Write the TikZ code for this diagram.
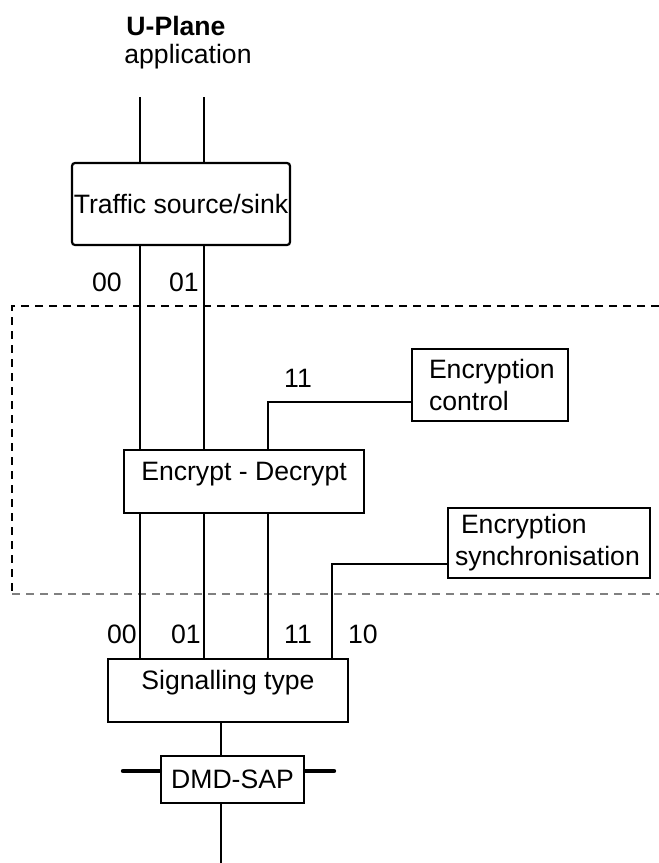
\documentclass[tikz,border=0pt]{standalone}
\usepackage{fontspec}
\setmainfont{Liberation Sans}
\usepackage{tikz}
\usetikzlibrary{positioning,calc}
\definecolor{dgray}{HTML}{808080}

\begin{document}
\begin{tikzpicture}[x=0.5pt, y=-0.5pt,
    txt/.style={font=\fontsize{13.3}{16}\selectfont, inner sep=0pt},
    blockbox/.style={txt, draw, line width=1.1pt, align=center},
    upbox/.style={blockbox, text height=9.6pt, text depth=11pt},
    wire/.style={line width=1.1pt},
    sapbar/.style={line width=2.2pt, line cap=round},
    dashtop/.style={line width=0.6pt, dash pattern=on 4pt off 3pt},
    dashbot/.style={line width=1pt, dgray, dash pattern=on 4pt off 3pt}]
    \useasboundingbox (0,0) rectangle (659,863);

    % Title
    \node[txt, anchor=base, font=\fontsize{13.3}{16}\selectfont\bfseries] (uplane) at (176,35) {U-Plane};
    \node[txt, anchor=base] (app) at (188,63) {application};

    % Blocks
    \node[blockbox, minimum width=109pt, minimum height=41pt, rounded corners=1.5pt] (traffic) at (181,204) {Traffic source/sink};
    \node[upbox, minimum width=120pt, minimum height=31.5pt] (encrypt) at (244,481.5) {Encrypt - Decrypt};
    \node[upbox, minimum width=120pt, minimum height=31.5pt] (sig) at (228,690.5) {Signalling type};
    \node[blockbox, minimum width=71.5pt, minimum height=23.5pt] (dmd) at (232.5,779.5) {DMD-SAP};
    \node[blockbox, align=left, text width=61pt, inner xsep=8.5pt, minimum height=36pt] (ctrl) at (490,385) {Encryption\\control};
    \node[blockbox, align=left, text width=94pt, inner xsep=3.5pt, minimum height=35pt] (sync) at (549,543) {\hspace*{3pt}Encryption\\synchronisation};

    % Connection points
    \coordinate (in00) at (140,97);
    \coordinate (in01) at (204,97);
    \coordinate (c11) at (268,402);
    \coordinate (c10) at (332,564);
    \coordinate (sap) at (221,0);
    \coordinate (out) at (221,863);
    \coordinate (barl) at (123,771);
    \coordinate (barr) at (334,771);

    % Domain boundary
    \draw[dashtop] (659,306) -- (12,306) -- (12,594);
    \draw[dashbot] (12,594) -- (659,594);

    % Channels 00 and 01
    \foreach \c in {in00, in01} {
        \draw[wire] (\c) -- (traffic.north -| \c);
        \draw[wire] (traffic.south -| \c) -- (encrypt.north -| \c);
        \draw[wire] (encrypt.south -| \c) -- (sig.north -| \c);
    }

    % Channels 11 and 10
    \draw[wire] (encrypt.north -| c11) |- (ctrl.west |- c11);
    \draw[wire] (encrypt.south -| c11) -- (sig.north -| c11);
    \draw[wire] (sig.north -| c10) |- (sync.west |- c10);

    % Service access point
    \draw[wire] (sig.south -| sap) -- (dmd.north -| sap);
    \draw[wire] (dmd.south -| sap) -- (out);
    \draw[sapbar] (barl) -- (dmd.west |- barl);
    \draw[sapbar] (dmd.east |- barr) -- (barr);

    % Channel labels
    \foreach \n/\x/\y/\t in {ta/107/291/00, tb/184/291/01, tc/298/387/11,
                             ba/122/643/00, bb/186/643/01, bc/298/643/11, bd/363/643/10} {
        \node[txt, anchor=base] (lab\n) at (\x,\y) {\t};
    }
\end{tikzpicture}
\end{document}
